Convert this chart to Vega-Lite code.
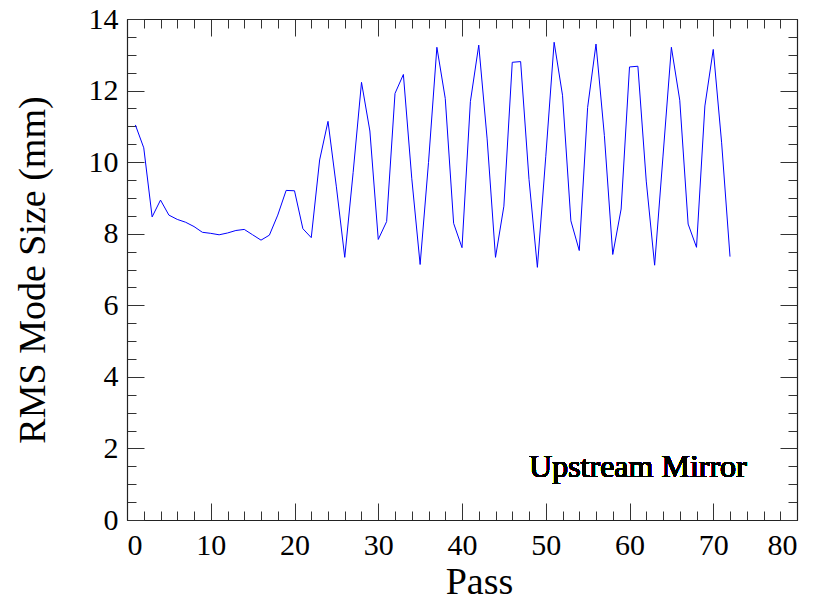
{
  "$schema": "https://vega.github.io/schema/vega-lite/v6.json",
  "width": 670,
  "height": 501,
  "autosize": "none",
  "padding": {"left": 127, "top": 19, "right": 21, "bottom": 82},
  "background": "white",
  "config": {
    "view": {"stroke": null},
    "font": "Liberation Serif",
    "axis": {
      "grid": false,
      "domainColor": "#222222",
      "domainWidth": 1.2,
      "tickColor": "#333333",
      "tickWidth": 1,
      "labelFont": "Liberation Serif",
      "titleFont": "Liberation Serif",
      "labelColor": "black",
      "titleColor": "black",
      "labelFontSize": 30,
      "titleFontSize": 38,
      "titleFontWeight": "normal"
    }
  },
  "data": {
    "values": [
      {"pass": 1, "size": 11.04}, {"pass": 2, "size": 10.40}, {"pass": 3, "size": 8.47},
      {"pass": 4, "size": 8.94}, {"pass": 5, "size": 8.52}, {"pass": 6, "size": 8.40},
      {"pass": 7, "size": 8.32}, {"pass": 8, "size": 8.20}, {"pass": 9, "size": 8.04},
      {"pass": 10, "size": 8.01}, {"pass": 11, "size": 7.97}, {"pass": 12, "size": 8.02},
      {"pass": 13, "size": 8.09}, {"pass": 14, "size": 8.12}, {"pass": 15, "size": 7.97},
      {"pass": 16, "size": 7.82}, {"pass": 17, "size": 7.96}, {"pass": 18, "size": 8.52},
      {"pass": 19, "size": 9.21}, {"pass": 20, "size": 9.20}, {"pass": 21, "size": 8.14},
      {"pass": 22, "size": 7.89}, {"pass": 23, "size": 10.06}, {"pass": 24, "size": 11.14},
      {"pass": 25, "size": 9.31}, {"pass": 26, "size": 7.34}, {"pass": 27, "size": 9.71},
      {"pass": 28, "size": 12.23}, {"pass": 29, "size": 10.87}, {"pass": 30, "size": 7.84},
      {"pass": 31, "size": 8.34}, {"pass": 32, "size": 11.92}, {"pass": 33, "size": 12.45},
      {"pass": 34, "size": 9.55}, {"pass": 35, "size": 7.14}, {"pass": 36, "size": 9.99},
      {"pass": 37, "size": 13.21}, {"pass": 38, "size": 11.78}, {"pass": 39, "size": 8.29},
      {"pass": 40, "size": 7.61}, {"pass": 41, "size": 11.69}, {"pass": 42, "size": 13.27},
      {"pass": 43, "size": 10.65}, {"pass": 44, "size": 7.34}, {"pass": 45, "size": 8.77},
      {"pass": 46, "size": 12.79}, {"pass": 47, "size": 12.81}, {"pass": 48, "size": 9.52},
      {"pass": 49, "size": 7.06}, {"pass": 50, "size": 10.15}, {"pass": 51, "size": 13.35},
      {"pass": 52, "size": 11.87}, {"pass": 53, "size": 8.36}, {"pass": 54, "size": 7.53},
      {"pass": 55, "size": 11.53}, {"pass": 56, "size": 13.30}, {"pass": 57, "size": 10.74},
      {"pass": 58, "size": 7.42}, {"pass": 59, "size": 8.69}, {"pass": 60, "size": 12.66},
      {"pass": 61, "size": 12.68}, {"pass": 62, "size": 9.47}, {"pass": 63, "size": 7.12},
      {"pass": 64, "size": 10.17}, {"pass": 65, "size": 13.21}, {"pass": 66, "size": 11.73},
      {"pass": 67, "size": 8.27}, {"pass": 68, "size": 7.62}, {"pass": 69, "size": 11.57},
      {"pass": 70, "size": 13.15}, {"pass": 71, "size": 10.54}, {"pass": 72, "size": 7.36}
    ]
  },
  "resolve": {"axis": {"x": "independent", "y": "independent"}},
  "layer": [
    {
      "mark": {"type": "line", "opacity": 0},
      "encoding": {
        "x": {"field": "pass", "type": "quantitative", "scale": {"domain": [0, 80], "nice": false},
              "axis": {"orient": "bottom", "values": [0,2,4,6,8,10,12,14,16,18,20,22,24,26,28,30,32,34,36,38,40,42,44,46,48,50,52,54,56,58,60,62,64,66,68,70,72,74,76,78,80],
                       "labels": false, "title": null, "tickSize": -9, "domain": false}},
        "y": {"field": "size", "type": "quantitative", "scale": {"domain": [0, 14], "nice": false},
              "axis": {"orient": "left", "values": [0,0.5,1,1.5,2,2.5,3,3.5,4,4.5,5,5.5,6,6.5,7,7.5,8,8.5,9,9.5,10,10.5,11,11.5,12,12.5,13,13.5,14],
                       "labels": false, "title": null, "tickSize": -9, "domain": false}}
      }
    },
    {
      "mark": {"type": "line", "opacity": 0},
      "encoding": {
        "x": {"field": "pass", "type": "quantitative",
              "axis": {"orient": "top", "values": [0,2,4,6,8,10,12,14,16,18,20,22,24,26,28,30,32,34,36,38,40,42,44,46,48,50,52,54,56,58,60,62,64,66,68,70,72,74,76,78,80],
                       "labels": false, "title": null, "tickSize": -9, "domain": false}},
        "y": {"field": "size", "type": "quantitative",
              "axis": {"orient": "right", "values": [0,0.5,1,1.5,2,2.5,3,3.5,4,4.5,5,5.5,6,6.5,7,7.5,8,8.5,9,9.5,10,10.5,11,11.5,12,12.5,13,13.5,14],
                       "labels": false, "title": null, "tickSize": -9, "domain": false}}
      }
    },
    {
      "mark": {"type": "line", "opacity": 0},
      "encoding": {
        "x": {"field": "pass", "type": "quantitative",
              "axis": {"orient": "top", "values": [0,10,20,30,40,50,60,70,80],
                       "labels": false, "title": null, "tickSize": -17}},
        "y": {"field": "size", "type": "quantitative",
              "axis": {"orient": "right", "values": [0,2,4,6,8,10,12,14],
                       "labels": false, "title": null, "tickSize": -17}}
      }
    },
    {
      "mark": {"type": "line", "color": "#0000ff", "strokeWidth": 1},
      "encoding": {
        "x": {"field": "pass", "type": "quantitative",
              "axis": {"orient": "bottom", "values": [0,10,20,30,40,50,60,70,80], "title": "Pass",
                       "tickSize": -17, "labelPadding": 27, "titlePadding": 3, "titleX": 352}},
        "y": {"field": "size", "type": "quantitative",
              "axis": {"orient": "left", "values": [0,2,4,6,8,10,12,14], "title": "RMS Mode Size (mm)",
                       "tickSize": -17, "labelPadding": 26, "titlePadding": 36}}
      }
    },
    {
      "mark": {"type": "text", "text": "Upstream Mirror", "font": "Liberation Serif", "fontSize": 32, "align": "center", "baseline": "alphabetic", "color": "black"},
      "encoding": {
        "x": {"datum": 61, "type": "quantitative", "axis": null},
        "y": {"datum": 1.2, "type": "quantitative", "axis": null}
      }
    }
  ]
}
